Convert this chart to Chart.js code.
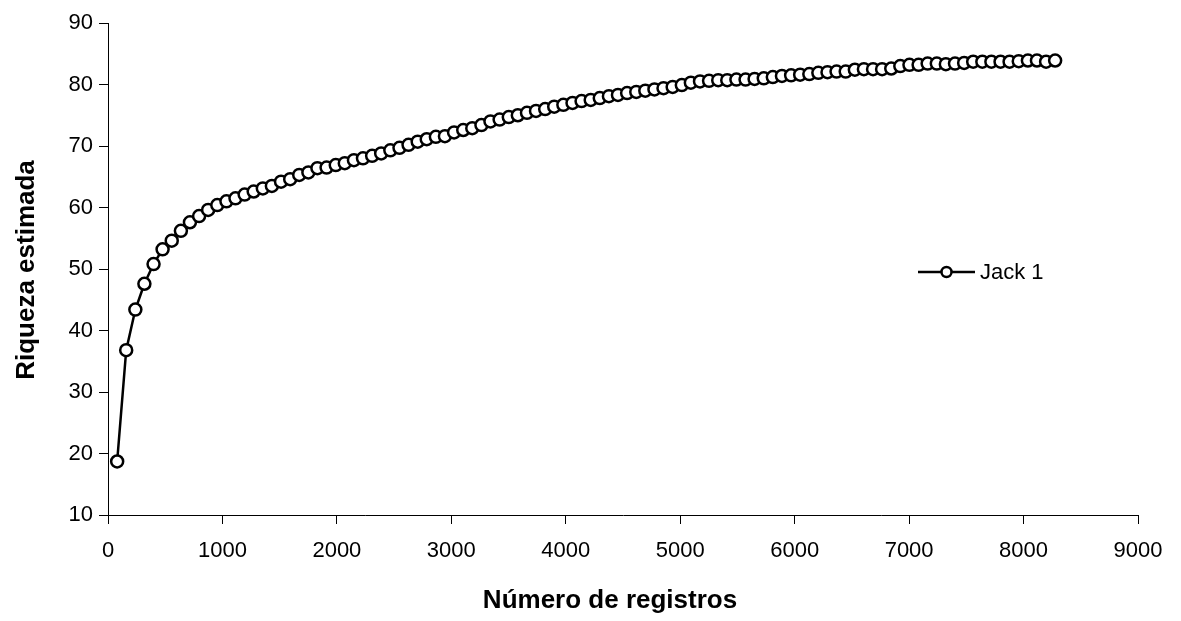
<!DOCTYPE html>
<html>
<head>
<meta charset="utf-8">
<script src="https://cdn.jsdelivr.net/npm/chart.js@4/dist/chart.umd.min.js"></script>
<style>
  html, body { margin: 0; padding: 0; background: #fff; }
  #wrap { width: 1181px; height: 621px; }
</style>
</head>
<body>
<div id="wrap"><canvas id="c" width="1181" height="621"></canvas></div>
<script>
// Species accumulation: estimated richness (Jackknife 1) against number of records
const registros = [
  80, 159, 239, 318, 398, 477, 557, 637, 716, 796,
  875, 955, 1035, 1114, 1194, 1273, 1353, 1432, 1512, 1592,
  1671, 1751, 1830, 1910, 1990, 2069, 2149, 2228, 2308, 2387,
  2467, 2547, 2626, 2706, 2785, 2865, 2944, 3024, 3104, 3183,
  3263, 3342, 3422, 3502, 3581, 3661, 3740, 3820, 3899, 3979,
  4059, 4138, 4218, 4297, 4377, 4456, 4536, 4616, 4695, 4775,
  4854, 4934, 5014, 5093, 5173, 5252, 5332, 5411, 5491, 5571,
  5650, 5730, 5809, 5889, 5969, 6048, 6128, 6207, 6287, 6366,
  6446, 6526, 6605, 6685, 6764, 6844, 6923, 7003, 7083, 7162,
  7242, 7321, 7401, 7481, 7560, 7640, 7719, 7799, 7878, 7958,
  8038, 8117, 8197, 8276
];
const jack1 = [
  18.7, 36.8, 43.4, 47.6, 50.8, 53.2, 54.6, 56.2, 57.6, 58.6,
  59.6, 60.4, 61.0, 61.5, 62.1, 62.6, 63.1, 63.5, 64.2, 64.6,
  65.3, 65.7, 66.4, 66.5, 66.9, 67.2, 67.7, 68.0, 68.4, 68.8,
  69.3, 69.7, 70.2, 70.7, 71.1, 71.5, 71.6, 72.2, 72.6, 72.9,
  73.4, 74.0, 74.3, 74.7, 75.0, 75.4, 75.7, 76.0, 76.4, 76.7,
  77.0, 77.3, 77.5, 77.8, 78.1, 78.3, 78.6, 78.8, 79.0, 79.2,
  79.4, 79.6, 79.9, 80.3, 80.5, 80.6, 80.7, 80.7, 80.8, 80.8,
  80.9, 81.0, 81.2, 81.4, 81.5, 81.6, 81.7, 81.9, 82.0, 82.1,
  82.1, 82.4, 82.5, 82.5, 82.5, 82.6, 83.0, 83.2, 83.2, 83.4,
  83.4, 83.3, 83.4, 83.5, 83.7, 83.7, 83.7, 83.7, 83.7, 83.8,
  83.9, 83.9, 83.7, 83.9
];
const xTicks = [0, 1000, 2000, 3000, 4000, 5000, 6000, 7000, 8000, 9000];
const yTicks = [10, 20, 30, 40, 50, 60, 70, 80, 90];
const seriesName = 'Jack 1';
const xTitle = 'Número de registros';
const yTitle = 'Riqueza estimada';

const FONT = 'Liberation Sans, Arial, sans-serif';

// Axis titles and the single legend entry (line + marker + text)
const annotations = {
  id: 'annotations',
  afterDraw(chart) {
    const ctx = chart.ctx;
    const ds = chart.data.datasets[0];
    ctx.save();
    ctx.fillStyle = '#000';
    ctx.font = 'bold 26px ' + FONT;
    ctx.textAlign = 'center';
    ctx.textBaseline = 'middle';
    ctx.fillText(xTitle, 610, 601);
    ctx.translate(27, 270);
    ctx.rotate(-Math.PI / 2);
    ctx.fillText(yTitle, 0, 0);
    ctx.restore();

    const y = 272, x0 = 918, x1 = 975, xm = (x0 + x1) / 2;
    ctx.save();
    ctx.strokeStyle = ds.borderColor;
    ctx.lineWidth = ds.borderWidth;
    ctx.beginPath(); ctx.moveTo(x0, y); ctx.lineTo(x1, y); ctx.stroke();
    ctx.beginPath(); ctx.arc(xm, y, 5, 0, Math.PI * 2);
    ctx.fillStyle = ds.pointBackgroundColor; ctx.fill();
    ctx.lineWidth = ds.pointBorderWidth; ctx.strokeStyle = ds.pointBorderColor; ctx.stroke();
    ctx.fillStyle = '#000';
    ctx.font = '22px ' + FONT;
    ctx.textBaseline = 'middle';
    ctx.textAlign = 'left';
    ctx.fillText(ds.label, 980, y + 1);
    ctx.restore();
  }
};

new Chart(document.getElementById('c'), {
  type: 'line',
  data: {
    datasets: [{
      label: seriesName,
      data: registros.map((r, i) => ({ x: r, y: jack1[i] })),
      borderColor: '#000',
      borderWidth: 2.5,
      pointRadius: 6,
      pointBorderWidth: 2.5,
      pointBackgroundColor: '#fff',
      pointBorderColor: '#000',
      tension: 0
    }]
  },
  options: {
    responsive: false,
    animation: false,
    layout: { padding: { top: 23, right: 43, left: 0, bottom: 0 } },
    plugins: { legend: { display: false }, tooltip: { enabled: false } },
    scales: {
      x: {
        type: 'linear',
        min: 0, max: 9000,
        afterBuildTicks: s => { s.ticks = xTicks.map(v => ({ value: v })); },
        afterFit: s => { s.height = 106; },
        grid: { drawOnChartArea: false, drawTicks: true, tickLength: 9, color: '#000', lineWidth: 1 },
        border: { display: true, color: '#000', width: 1 },
        ticks: { color: '#000', font: { family: FONT, size: 22 }, padding: 14, maxRotation: 0, callback: v => String(v) },
        title: { display: false }
      },
      y: {
        type: 'linear',
        min: 10, max: 90,
        afterBuildTicks: s => { s.ticks = yTicks.map(v => ({ value: v })); },
        afterFit: s => { s.width = 108; },
        grid: { drawOnChartArea: false, drawTicks: true, tickLength: 9, color: '#000', lineWidth: 1 },
        border: { display: true, color: '#000', width: 1 },
        ticks: { color: '#000', font: { family: FONT, size: 22 }, padding: 6, callback: v => String(v) },
        title: { display: false }
      }
    }
  },
  plugins: [annotations]
});
</script>
</body>
</html>
